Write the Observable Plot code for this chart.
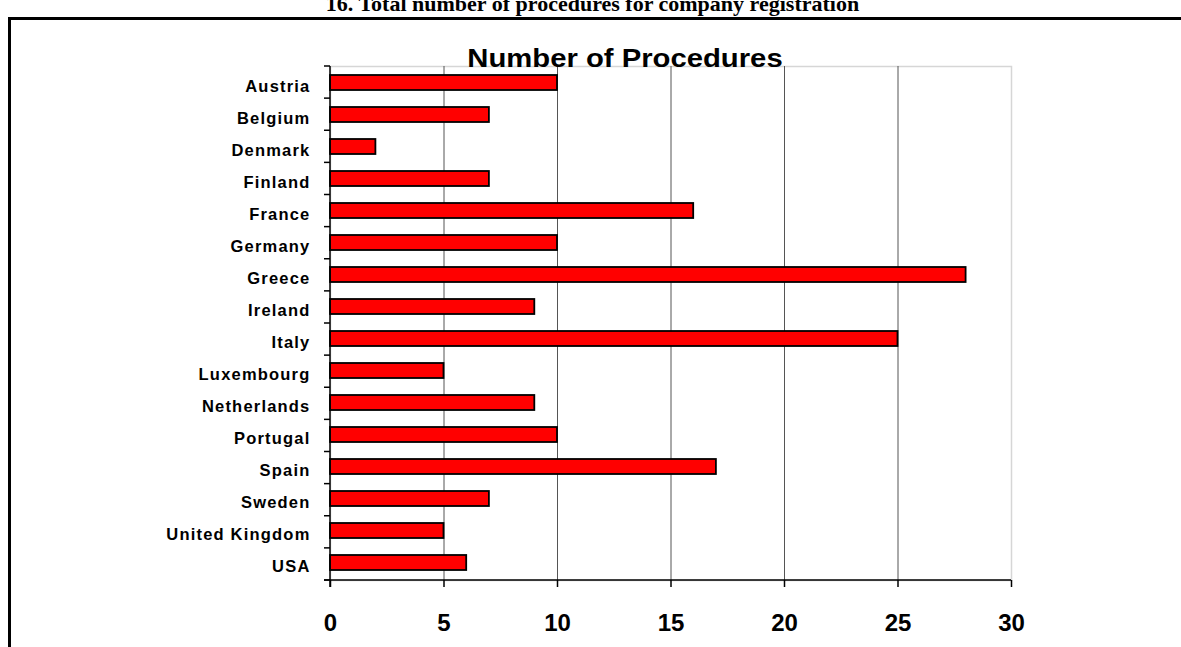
<!DOCTYPE html>
<html>
<head>
<meta charset="utf-8">
<script src="https://cdn.jsdelivr.net/npm/d3@7"></script>
<script src="https://cdn.jsdelivr.net/npm/@observablehq/plot@0.6"></script>
<style>
  html, body { margin: 0; padding: 0; background: #fff; overflow: hidden; }
  #page { position: relative; width: 1181px; height: 647px; overflow: hidden; }
  #box { position: absolute; left: 8px; top: 17px; width: 1300px; height: 800px;
         border-left: 3px solid #000; border-top: 3px solid #000; }
  #heading { position: absolute; left: 0; width: 1181px; top: -7px; text-align: center;
             font: bold 22px/22px "Liberation Serif", "Times New Roman", serif; color: #000; padding-left: 2px; }
  #title { position: absolute; left: 0; width: 1250px; top: 46px; text-align: center;
           font: bold 25px/25px "Liberation Sans", Arial, sans-serif; color: #000;
           transform: scaleX(1.17); transform-origin: 625px 0; }
  #chart { position: absolute; left: 0; top: 0; }
  g[aria-label="y-axis tick label"] text { letter-spacing: 1.2px; }
</style>
</head>
<body>
<div id="page">
  <div id="heading">16. Total number of procedures for company registration</div>
  <div id="box"></div>
  <div id="chart"></div>
  <div id="title">Number of Procedures</div>
</div>
<script>
// Countries, top to bottom
const countries = [
  "Austria", "Belgium", "Denmark", "Finland", "France", "Germany", "Greece",
  "Ireland", "Italy", "Luxembourg", "Netherlands", "Portugal", "Spain",
  "Sweden", "United Kingdom", "USA"
];
// Number of procedures required to register a company
const procedures = [10, 7, 2, 7, 16, 10, 28, 9, 25, 5, 9, 10, 17, 7, 5, 6];
// Value axis ticks
const xTicks = [0, 5, 10, 15, 20, 25, 30];
const gridValues = [5, 10, 15, 20, 25];

const data = countries.map((country, i) => ({country, value: procedures[i]}));

// Axis lines and the small ticks between category bands
function axisLines(index, scales, values, dimensions) {
  const {height, marginTop, marginBottom} = dimensions;
  const x0 = scales.x(0);
  const x1 = scales.x(xTicks[xTicks.length - 1]);
  const yBottom = height - marginBottom;
  const step = (yBottom - marginTop) / countries.length;
  const g = d3.create("svg:g").attr("stroke", "#000").attr("stroke-width", 1.5);
  g.append("line").attr("x1", x0 - 6).attr("x2", x1).attr("y1", yBottom).attr("y2", yBottom);
  g.append("line").attr("x1", x0).attr("x2", x0).attr("y1", marginTop).attr("y2", yBottom + 7);
  d3.range(countries.length + 1).forEach(i => {
    const y = marginTop + i * step;
    g.append("line").attr("x1", x0 - 6).attr("x2", x0).attr("y1", y).attr("y2", y);
  });
  return g.node();
}

const chart = Plot.plot({
  width: 1181,
  height: 647,
  marginLeft: 330,
  marginRight: 170,
  marginTop: 66,
  marginBottom: 67,
  style: {fontFamily: "'Liberation Sans', Arial, sans-serif", background: "transparent", color: "#000"},
  x: {domain: [0, 30]},
  y: {domain: countries, paddingInner: 0.52, paddingOuter: 0.26, label: null},
  marks: [
    Plot.frame({stroke: "#d6d6d6", strokeWidth: 1.5}),
    Plot.ruleX(gridValues, {stroke: "#555", strokeWidth: 1}),
    Plot.barX(data, {x: "value", y: "country", fill: "#ff0000", stroke: "#000", strokeWidth: 1.8}),
    axisLines,
    Plot.axisX({ticks: xTicks, tickSize: 7, tickPadding: 26, fontSize: 24, fontWeight: "bold",
                label: null, stroke: "#000", strokeWidth: 1.5, tickFormat: d => d}),
    Plot.axisY({tickSize: 0, tickPadding: 20, fontSize: 16.5, fontWeight: "bold", label: null, dy: 4})
  ]
});
document.getElementById("chart").appendChild(chart);
</script>
</body>
</html>
